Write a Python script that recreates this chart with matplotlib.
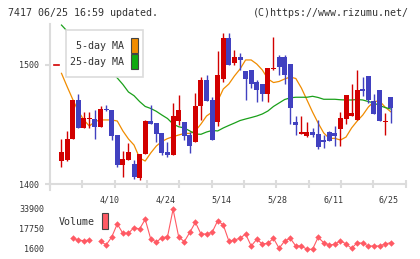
import numpy as np
import matplotlib
matplotlib.use("Agg")
import matplotlib.pyplot as plt
from matplotlib.patches import Rectangle

# ---------------- data ----------------
opens  = [1419,1420,1438,1470,1447,1454,1454,1448,1462.5,1462,1441,1416,1420,1417,1405,1425,1452.7,1451,1443,1427,
          1424,1453,1452,1441,1435,1465,1487,1470,1452,1488,1522,1501.5,1506,1494.6,1495.4,1485,1484,1475,1496.5,1506,
          1506,1500,1452,1442,1440,1443.5,1442,1437,1443.5,1442.7,1446,1454,1457,1453.6,1479.5,1490.4,1469.5,1479,1451.5,1473]
highs  = [1438,1444,1470,1475,1460,1460,1462,1465.5,1466,1462,1441,1428,1434.5,1420,1425,1453.6,1466,1451,1443,1435,
          1468,1474.5,1452,1443.5,1476,1489.5,1491,1473,1511,1526,1526,1512,1510,1494.6,1495.4,1487,1484,1497,1523,1508,
          1508,1500,1457,1457,1452,1447,1453.6,1441,1444,1448.5,1460,1474.5,1484,1495,1489.5,1490.4,1475,1479,1459.4,1473]
lows   = [1414,1419,1438,1447,1447,1447,1438,1448,1461.5,1437,1414.5,1406,1420,1404,1403,1425,1450,1435,1424,1423,
          1424,1449,1437,1426,1435,1453.6,1469.5,1437,1448.5,1485.6,1500,1499.6,1495,1470,1480,1469,1469.5,1469,1495,1491,
          1484,1450,1441,1442,1439,1439,1429,1430.5,1435.6,1432,1432,1450,1457,1453.6,1473.6,1467.5,1458.6,1453,1441,1451]
closes = [1427,1438,1470,1447,1455,1455,1448,1462.5,1461.7,1440,1416,1421,1427,1405.5,1425,1453,1450.5,1442,1426,1424,
          1457,1462,1440,1432,1465,1487,1469.5,1437,1491,1522,1500,1506,1504,1488,1484,1479,1475,1497,1497,1498,
          1491,1464,1449,1443.5,1443.5,1441,1431,1435,1435.6,1440,1455,1474.5,1459.4,1479,1478,1470,1458.6,1453,1452,1463.6]
ma5  = [1492.6,1481.6,1471,1461,1453.6,1448.5,1452.3,1453.6,1453.6,1453.6,1452.7,1444.4,1437.7,1432.6,1421.8,1419.2,1426,1431.8,1435.6,1438,
        1439.6,1441,1442.3,1442.4,1444.4,1450.2,1456.9,1460.2,1469.5,1479.5,1483.7,1490.4,1496.2,1503.8,1503.8,1500.4,1495.4,1487.9,1484.9,1485.8,
        1487.9,1489.5,1488.3,1480.3,1470.3,1460.2,1451,1442.7,1438.2,1438.2,1436.8,1439.3,1446.9,1452.7,1457.7,1464.4,1469,1469.5,1464.4,1460.5]
ma25 = [1533,1528,1523,1518,1513,1508.8,1504.6,1500.4,1496.2,1492.9,1488.7,1483.3,1477,1473.9,1469,1464.9,1463.2,1460.8,1457.7,1454.8,
        1450.2,1447.9,1446.9,1444.4,1441.8,1441.6,1443.5,1444.8,1444.4,1446.9,1449,1451,1453.1,1454.4,1455.6,1456.9,1458.6,1461.1,1464.9,1467.8,
        1470.7,1472.1,1472.6,1472.6,1472.6,1473.4,1472.4,1470.9,1470.9,1470.9,1470.5,1470.3,1470.3,1470.7,1470.3,1469,1467.8,1465.7,1464,1462.8]
volume = [np.nan,np.nan,10240,8870,8300,8870,np.nan,8060,4830,11290,21790,14280,14280,18960,17750,25580,9675,7250,10725,11530,
          33660,11530,7495,15085,23160,13710,13710,15085,24450,20980,8060,8870,10240,13710,4020,9430,5640,6200,10240,2165,
          8060,10240,4020,4020,1360,1360,11050,6690,4830,5400,8300,5640,2165,6690,6200,4020,4020,4020,5640,6690]
date_labels = ["4/10", "4/24", "5/14", "5/28", "6/11", "6/25"]
date_label_idx = [9, 19, 29, 39, 49, 59]
price_ticks = [1400, 1500]
volume_ticks = [1600, 17750, 33900]
marker_price = 1500
header_left = "7417 06/25 16:59 updated."
header_right = "(C)https://www.rizumu.net/"

# ---------------- style ----------------
RED = "#d20000"
BLUE = "#4141c0"
ORANGE = "#f08c00"
GREEN = "#1aa01a"
VOLC = "#ff5a64"
GRID = "#dcdcdc"
TXT = "#333333"
MONO = ["DejaVu Sans Mono"]

W, H = 420, 259
fig = plt.figure(figsize=(W / 100, H / 100), dpi=100)
fig.patch.set_facecolor("white")

def fx(px):
    return px / W

def fy(py):
    return 1 - py / H

ax = fig.add_axes([fx(50), fy(184), fx(405.5) - fx(50), fy(24) - fy(184)])
axv = fig.add_axes([fx(50), fy(249), fx(405.5) - fx(50), fy(209) - fy(249)])

n = len(closes)
x = np.arange(n)
xmin, xmax = -2.06, 61.66

o = np.array(opens, float); c = np.array(closes, float)
hi = np.array(highs, float); lo = np.array(lows, float)
up = c >= o
cols = [RED if u else BLUE for u in up]
bottoms = np.minimum(o, c)
heights = np.maximum(np.abs(c - o), 0.9)

ax.vlines(x, lo, hi, colors=cols, linewidth=1.0, zorder=3)
ax.bar(x, heights, bottom=bottoms, width=0.9, color=cols, linewidth=0, zorder=4)

ax.plot(x, ma5, color=ORANGE, lw=0.9, zorder=2)
ax.plot(x, ma25, color=GREEN, lw=0.9, zorder=2)

ax.set_xlim(xmin, xmax)
ax.set_ylim(1400, 1400 + 160 / 1.195)
for s in ["top", "right"]:
    ax.spines[s].set_visible(False)
for s in ["left", "bottom"]:
    ax.spines[s].set_color(GRID)
    ax.spines[s].set_linewidth(1.5)
ax.spines["left"].set_bounds(1400 - 6 / 1.195, 1400 + 160 / 1.195)

ax.set_yticks(price_ticks)
ax.set_yticklabels([str(t) for t in price_ticks], fontsize=6, color=TXT, family=MONO)
ax.tick_params(axis="y", length=3.6, width=1.5, color=GRID, pad=4.1)

ax.set_xticks(np.array(date_label_idx) - 0.3)
ax.set_xticklabels(date_labels, fontsize=6, color=TXT, family=MONO)
ax.tick_params(axis="x", which="major", length=0, pad=8.5)
ax.set_xticks(np.linspace(xmin, xmax, 12), minor=True)
ax.tick_params(axis="x", which="minor", direction="inout", length=5.8, width=1.5, color=GRID)

# current price marker on the axis
ax.plot([0.011, 0.025], [marker_price, marker_price], color=RED, lw=1.2,
        transform=ax.get_yaxis_transform(), clip_on=False, zorder=5)

# volume
axv.plot(x, volume, color=VOLC, lw=0.8, marker="D", markersize=3.3,
         markeredgewidth=0, clip_on=False)
axv.set_xlim(xmin, xmax)
axv.set_ylim(1600, 33900)
for s in axv.spines.values():
    s.set_visible(False)
axv.set_xticks([])
axv.set_yticks(volume_ticks)
axv.set_yticklabels([str(t) for t in volume_ticks], fontsize=6, color=TXT, family=MONO)
axv.tick_params(axis="y", length=0, pad=4.1)
axv.patch.set_alpha(0)

# header texts
fig.text(fx(8), fy(12.5), header_left, fontsize=7.2, color=TXT, family=MONO, va="center", ha="left")
fig.text(fx(408.5), fy(12.5), header_right, fontsize=7.2, color=TXT, family=MONO, va="center", ha="right")

# MA legend box
fig.patches.append(Rectangle((fx(65.7), fy(77.3)), fx(143.3) - fx(65.7), fy(30) - fy(77.3),
                             transform=fig.transFigure, facecolor="white", edgecolor=GRID,
                             linewidth=1.2, zorder=10))
fig.text(fx(124.5), fy(46), "5-day MA", fontsize=7.2, color=TXT, family=MONO, ha="right", va="center", zorder=11)
fig.text(fx(124.5), fy(62), "25-day MA", fontsize=7.2, color=TXT, family=MONO, ha="right", va="center", zorder=11)
fig.patches.append(Rectangle((fx(131), fy(52.5)), fx(6.5), fy(37.5) - fy(52.5), transform=fig.transFigure,
                             facecolor=ORANGE, edgecolor="#444444", linewidth=0.8, zorder=11))
fig.patches.append(Rectangle((fx(131), fy(69.3)), fx(6.5), fy(54.3) - fy(69.3), transform=fig.transFigure,
                             facecolor="#11aa11", edgecolor="#444444", linewidth=0.8, zorder=11))

# volume legend
fig.text(fx(58.3), fy(221.7), "Volume", fontsize=7.2, color=TXT, family=MONO, ha="left", va="center")
fig.patches.append(Rectangle((fx(101.7), fy(229)), fx(6), fy(213.3) - fy(229), transform=fig.transFigure,
                             facecolor=VOLC, edgecolor="#444444", linewidth=0.8, zorder=11))

fig.savefig("out.png", dpi=100)
